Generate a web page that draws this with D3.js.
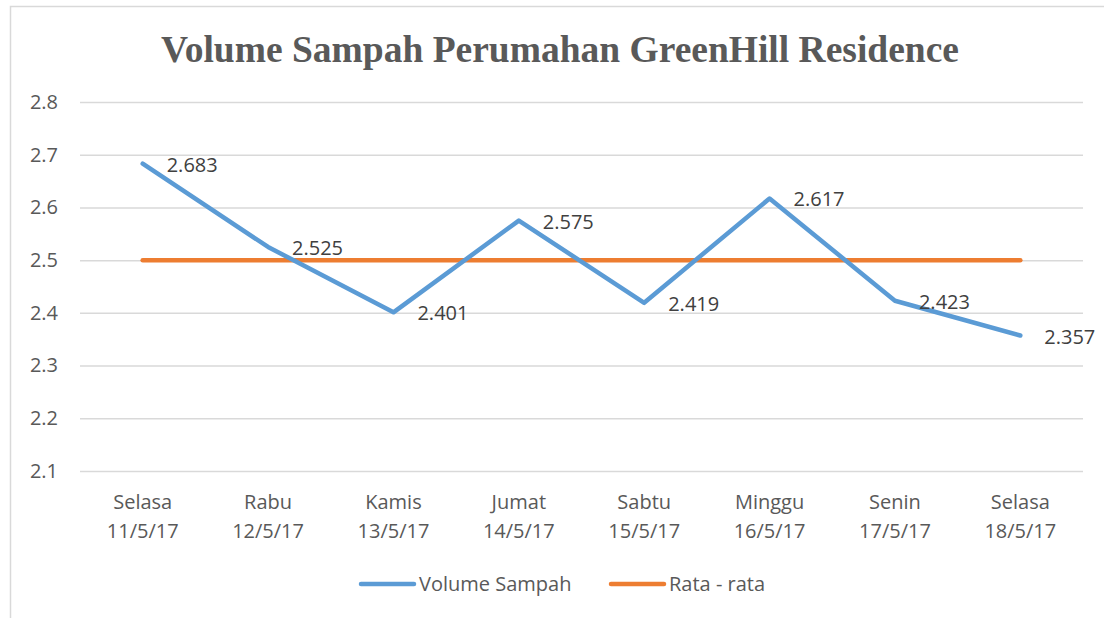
<!DOCTYPE html>
<html>
<head>
<meta charset="utf-8">
<script src="https://cdn.jsdelivr.net/npm/d3@7"></script>
<style>
  body { margin: 0; background: #fff; }
  text { font-family: "Open Sans", sans-serif; }
</style>
</head>
<body>
<div id="viz"></div>
<script>
// data
let days = ['Selasa', 'Rabu', 'Kamis', 'Jumat', 'Sabtu', 'Minggu', 'Senin', 'Selasa'];
let dates = ['11/5/17', '12/5/17', '13/5/17', '14/5/17', '15/5/17', '16/5/17', '17/5/17', '18/5/17'];
let volume = [2.683, 2.525, 2.401, 2.575, 2.419, 2.617, 2.423, 2.357];
let average = [2.5, 2.5, 2.5, 2.5, 2.5, 2.5, 2.5, 2.5];
let yTicks = [2.1, 2.2, 2.3, 2.4, 2.5, 2.6, 2.7, 2.8];

let width = 1104,
    height = 618,
    margin = { top: 102, right: 21, bottom: 147, left: 80 };

let blue = '#5b9bd5',
    orange = '#ed7d31',
    grid = '#d9d9d9';

let svg = d3.select('#viz').append('svg')
  .attr('width', width)
  .attr('height', height);

// chart border
svg.append('rect')
  .attr('x', 10.5).attr('y', 6.5)
  .attr('width', 1110).attr('height', 630)
  .attr('fill', 'none')
  .attr('stroke', grid)
  .attr('stroke-width', 1.5);

svg.append('text')
  .attr('x', 560).attr('y', 62)
  .attr('text-anchor', 'middle')
  .style('font-family', '"Liberation Serif", "Times New Roman", serif')
  .style('font-weight', 'bold')
  .style('font-size', '37.5px')
  .attr('fill', '#595959')
  .text('Volume Sampah Perumahan GreenHill Residence');

let idx = d3.range(days.length);

let xScale = d3.scaleBand()
  .domain(idx)
  .range([margin.left, width - margin.right]);

let yScale = d3.scaleLinear()
  .domain([2.1, 2.8])
  .range([height - margin.bottom, margin.top]);

let cx = function(i) { return xScale(i) + xScale.bandwidth() / 2; };

// gridlines + y labels
let yAxis = d3.axisLeft(yScale)
  .tickValues(yTicks)
  .tickSize(-(width - margin.right - margin.left))
  .tickPadding(22)
  .tickFormat(d3.format('.1f'));

let yGuide = svg.append('g')
  .attr('transform', 'translate(' + margin.left + ',0)')
  .call(yAxis);
yGuide.select('.domain').remove();
yGuide.selectAll('line').attr('stroke', grid).attr('stroke-width', 1.5);
yGuide.selectAll('text')
  .attr('fill', '#595959')
  .style('font-size', '20px')
  .style('font-family', '"Open Sans", sans-serif');

// x labels, two lines each
let xAxis = d3.axisBottom(xScale).tickSize(0).tickFormat('');
let xGuide = svg.append('g')
  .attr('transform', 'translate(0,' + (height - margin.bottom) + ')')
  .call(xAxis);
xGuide.select('.domain').remove();
xGuide.selectAll('.tick').each(function(d) {
  let t = d3.select(this).append('text')
    .attr('text-anchor', 'middle')
    .attr('fill', '#595959')
    .style('font-size', '20px');
  t.append('tspan').attr('x', 0).attr('y', 38).text(days[d]);
  t.append('tspan').attr('x', 0).attr('y', 67).text(dates[d]);
});

let line = d3.line()
  .x(function(d, i) { return cx(i); })
  .y(function(d) { return yScale(d); });

svg.append('path')
  .datum(average)
  .attr('d', line)
  .attr('fill', 'none')
  .attr('stroke', orange)
  .attr('stroke-width', 4.5)
  .attr('stroke-linecap', 'round');

svg.append('path')
  .datum(volume)
  .attr('d', line)
  .attr('fill', 'none')
  .attr('stroke', blue)
  .attr('stroke-width', 4.5)
  .attr('stroke-linecap', 'round')
  .attr('stroke-linejoin', 'round');

// data labels
svg.append('g').selectAll('text').data(volume)
  .enter().append('text')
  .attr('x', function(d, i) { return cx(i) + 24; })
  .attr('y', function(d) { return yScale(d) + 8; })
  .attr('fill', '#404040')
  .style('font-size', '20px')
  .text(function(d) { return d3.format('.3f')(d); });

// legend
let legend = [
  { name: 'Volume Sampah', color: blue, x: 361 },
  { name: 'Rata - rata', color: orange, x: 611 }
];
let lg = svg.append('g').selectAll('g').data(legend)
  .enter().append('g')
  .attr('transform', function(d) { return 'translate(' + d.x + ',584)'; });
lg.append('line')
  .attr('x1', 0).attr('x2', 53)
  .attr('stroke', function(d) { return d.color; })
  .attr('stroke-width', 4.5)
  .attr('stroke-linecap', 'round');
lg.append('text')
  .attr('x', 58).attr('y', 7)
  .attr('fill', '#595959')
  .style('font-size', '20px')
  .text(function(d) { return d.name; });
</script>
</body>
</html>
